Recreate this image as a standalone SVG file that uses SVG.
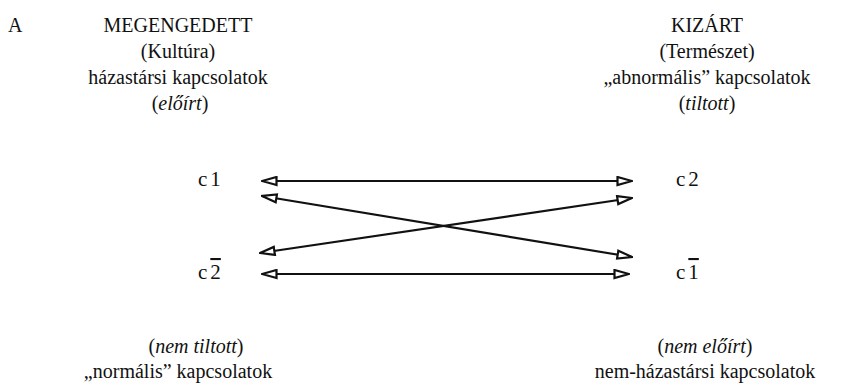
<svg xmlns="http://www.w3.org/2000/svg" width="845" height="390" viewBox="0 0 845 390">
<defs>
<style>
text{font-family:"Liberation Serif","DejaVu Serif",serif;font-size:20px;fill:#111}
.c{text-anchor:middle}
.i{font-style:italic}
.n{font-size:21px}
.conn line{stroke:#111;stroke-width:2.2;fill:none;marker-start:url(#head);marker-end:url(#head)}
</style>
<marker id="head" viewBox="0 0 17 11" refX="16" refY="5.5" markerWidth="17" markerHeight="11" markerUnits="userSpaceOnUse" orient="auto-start-reverse">
<path d="M1.5,1.5 L16,5.5 L1.5,9.5 Z" fill="#fff" stroke="#111" stroke-width="2.2" stroke-linejoin="miter"/>
</marker>
</defs>
<rect width="845" height="390" fill="#fff"/>
<g id="label-A"><text x="8" y="32">A</text></g>
<g id="header-left">
<text class="c" x="178" y="32">MEGENGEDETT</text>
<text class="c" x="178" y="58">(Kultúra)</text>
<text class="c" x="178" y="84">házastársi kapcsolatok</text>
<text class="c" x="180" y="110">(<tspan class="i">előírt</tspan>)</text>
</g>
<g id="header-right">
<text class="c" x="707" y="32">KIZÁRT</text>
<text class="c" x="707" y="58">(Természet)</text>
<text class="c" x="707" y="84">„abnormális” kapcsolatok</text>
<text class="c" x="707" y="110">(<tspan class="i">tiltott</tspan>)</text>
</g>
<g id="node-c1"><text class="n" x="198" y="186">c<tspan dx="3">1</tspan></text></g>
<g id="node-c2"><text class="n" x="676" y="186">c<tspan dx="3">2</tspan></text></g>
<g id="node-c2bar"><text class="n" x="198" y="279">c<tspan dx="3" text-decoration="overline">2</tspan></text></g>
<g id="node-c1bar"><text class="n" x="676" y="279">c<tspan dx="3" text-decoration="overline">1</tspan></text></g>
<g id="connectors" class="conn">
<line x1="262" y1="181" x2="632" y2="181"/>
<line x1="262" y1="196" x2="632" y2="257"/>
<line x1="260" y1="253" x2="632" y2="198"/>
<line x1="262" y1="274" x2="629" y2="274"/>
</g>
<g id="footer-left">
<text class="c" x="196" y="353">(<tspan class="i">nem tiltott</tspan>)</text>
<text class="c" x="178" y="378">„normális” kapcsolatok</text>
</g>
<g id="footer-right">
<text class="c" x="705" y="353">(<tspan class="i">nem előírt</tspan>)</text>
<text class="c" x="705" y="378">nem-házastársi kapcsolatok</text>
</g>
</svg>
